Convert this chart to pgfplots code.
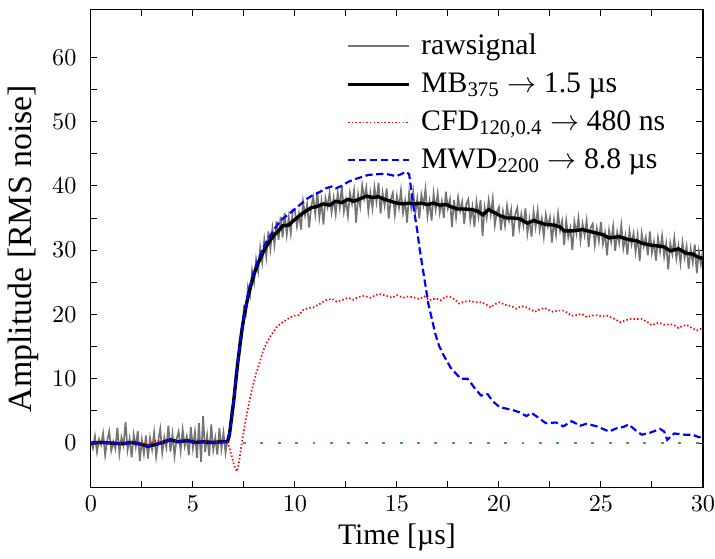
\documentclass[border=0pt]{standalone}
\usepackage{fontspec}
\setmainfont{Liberation Serif}
\usepackage{pgfplots}
\pgfplotsset{compat=1.18}

\definecolor{rawgray}{RGB}{115,115,115}
\definecolor{zerogreen}{RGB}{70,165,70}

\begin{document}
\begin{tikzpicture}
\begin{axis}[
  scale only axis,
  width=253pt, height=197.5pt,
  xmin=0, xmax=30, ymin=-6.9, ymax=67.4,
  xtick={0,5,...,30}, ytick={0,10,...,60},
  minor x tick num=1, minor y tick num=1,
  major tick length=2.7pt, minor tick length=2.7pt,
  tick style={black, line width=0.4pt},
  axis line style={line width=0.5pt},
  tick label style={font=\fontsize{9.6}{11}\selectfont},
  xticklabel style={inner xsep=0pt},
  yticklabel style={inner xsep=0pt, xshift=-5.8pt},
  xlabel={Time [µs]},
  ylabel={Amplitude [RMS noise]},
  xlabel style={font=\fontsize{12.3}{14}\selectfont, yshift=2pt},
  ylabel style={font=\fontsize{14}{16}\selectfont, yshift=2pt},
  legend style={at={(0.405,0.97)}, anchor=north west, draw=none, fill=none,
    legend cell align=left, row sep=2pt,
    font=\fontsize{12.3}{14}\selectfont,
    nodes={inner xsep=3pt}},
  legend image code/.code={\draw[#1] (0pt,0pt) -- (25pt,0pt); \path (26.5pt,0pt);},
]

% raw samples, 100 ns spacing
\addplot[rawgray, line width=0.7pt] coordinates {
(0.0,0.3)(0.1,-0.8)(0.2,1.1)(0.3,-1.4)(0.4,0.6)(0.5,-0.3)(0.6,1.5)(0.7,-1.9)(0.8,0.4)(0.9,1.8)
(1.0,-1.2)(1.1,0.2)(1.2,-0.9)(1.3,2.4)(1.4,-1.6)(1.5,0.9)(1.6,-0.4)(1.7,3.3)(1.8,-1.1)(1.9,0.7)
(2.0,-2.2)(2.1,1.3)(2.2,-0.6)(2.3,1.9)(2.4,-2.8)(2.5,0.5)(2.6,-1.7)(2.7,1.2)(2.8,-2.4)(2.9,0.8)
(3.0,-1.0)(3.1,1.6)(3.2,-2.1)(3.3,0.3)(3.4,2.2)(3.5,-1.5)(3.6,0.9)(3.7,-0.7)(3.8,2.7)(3.9,-1.3)
(4.0,1.4)(4.1,-2.0)(4.2,0.6)(4.3,1.8)(4.4,-1.2)(4.5,2.1)(4.6,-0.5)(4.7,1.0)(4.8,-1.9)(4.9,2.5)
(5.0,-0.8)(5.1,1.7)(5.2,-2.3)(5.3,3.1)(5.4,-2.9)(5.5,4.2)(5.6,-1.4)(5.7,1.2)(5.8,-2.0)(5.9,2.9)
(6.0,-1.1)(6.1,0.8)(6.2,-1.8)(6.3,2.3)(6.4,-0.9)(6.5,1.6)(6.6,-1.5)(6.7,0.7)(6.8,0.8)(6.9,5.2)
(7.0,5.8)(7.1,10.9)(7.2,11.6)(7.3,16.3)(7.4,16.7)(7.5,21.0)(7.6,20.1)(7.7,24.3)(7.8,22.9)(7.9,26.8)
(8.0,25.0)(8.1,28.6)(8.2,26.7)(8.3,30.4)(8.4,28.1)(8.5,31.6)(8.6,29.0)(8.7,32.9)(8.8,30.2)(8.9,33.4)
(9.0,30.8)(9.1,34.5)(9.2,31.6)(9.3,35.2)(9.4,32.0)(9.5,35.8)(9.6,32.4)(9.7,35.1)(9.8,32.6)(9.9,36.3)
(10.0,36.2)(10.1,33.7)(10.2,35.7)(10.3,33.2)(10.4,37.6)(10.5,35.4)(10.6,37.1)(10.7,33.5)(10.8,36.8)(10.9,38.2)
(11.0,35.6)(11.1,39.1)(11.2,35.1)(11.3,37.6)(11.4,34.0)(11.5,38.1)(11.6,36.7)(11.7,38.9)(11.8,35.9)(11.9,38.1)
(12.0,35.6)(12.1,38.9)(12.2,36.6)(12.3,39.9)(12.4,36.0)(12.5,37.8)(12.6,35.3)(12.7,38.9)(12.8,37.2)(12.9,39.3)
(13.0,34.3)(13.1,38.7)(13.2,36.8)(13.3,40.1)(13.4,38.0)(13.5,39.7)(13.6,36.1)(13.7,38.9)(13.8,36.5)(13.9,39.8)
(14.0,37.5)(14.1,40.5)(14.2,35.7)(14.3,38.9)(14.4,36.9)(14.5,39.6)(14.6,34.9)(14.7,37.9)(14.8,38.9)(14.9,35.5)
(15.0,38.4)(15.1,36.6)(15.2,39.3)(15.3,35.8)(15.4,37.7)(15.5,34.3)(15.6,38.9)(15.7,36.6)(15.8,39.1)(15.9,35.7)
(16.0,38.0)(16.1,34.9)(16.2,38.6)(16.3,37.0)(16.4,39.5)(16.5,35.3)(16.6,37.6)(16.7,34.6)(16.8,38.8)(16.9,36.3)
(17.0,38.8)(17.1,35.8)(17.2,37.6)(17.3,35.0)(17.4,39.1)(17.5,36.5)(17.6,37.9)(17.7,33.6)(17.8,37.8)(17.9,35.1)
(18.0,38.2)(18.1,36.1)(18.2,37.5)(18.3,34.1)(18.4,37.1)(18.5,37.9)(18.6,34.6)(18.7,36.7)(18.8,33.6)(18.9,37.5)
(19.0,35.2)(19.1,37.8)(19.2,32.2)(19.3,36.7)(19.4,35.0)(19.5,37.8)(19.6,35.5)(19.7,38.0)(19.8,33.9)(19.9,35.9)
(20.0,36.7)(20.1,33.1)(20.2,36.0)(20.3,33.8)(20.4,36.9)(20.5,34.6)(20.6,36.3)(20.7,32.1)(20.8,35.6)(20.9,36.6)
(21.0,33.4)(21.1,35.6)(21.2,33.8)(21.3,36.5)(21.4,32.6)(21.5,34.8)(21.6,32.1)(21.7,36.0)(21.8,33.6)(21.9,36.2)
(22.0,33.1)(22.1,34.9)(22.2,32.1)(22.3,35.5)(22.4,33.7)(22.5,35.1)(22.6,31.2)(22.7,34.7)(22.8,32.4)(22.9,35.7)
(23.0,33.0)(23.1,34.5)(23.2,30.8)(23.3,34.6)(23.4,32.0)(23.5,33.4)(23.6,30.0)(23.7,34.4)(23.8,32.6)(23.9,35.0)
(24.0,31.5)(24.1,34.1)(24.2,32.3)(24.3,34.6)(24.4,30.5)(24.5,33.5)(24.6,34.1)(24.7,30.8)(24.8,33.4)(24.9,31.4)
(25.0,34.4)(25.1,31.0)(25.2,32.7)(25.3,29.2)(25.4,33.1)(25.5,31.3)(25.6,33.7)(25.7,29.9)(25.8,32.8)(25.9,31.1)
(26.0,33.9)(26.1,30.3)(26.2,32.2)(26.3,29.3)(26.4,33.0)(26.5,30.9)(26.6,32.6)(26.7,29.7)(26.8,32.3)(26.9,28.3)
(27.0,32.6)(27.1,30.6)(27.2,32.0)(27.3,29.2)(27.4,32.9)(27.5,29.6)(27.6,31.3)(27.7,28.4)(27.8,31.9)(27.9,29.8)
(28.0,32.2)(28.1,29.0)(28.2,31.0)(28.3,27.0)(28.4,31.1)(28.5,29.4)(28.6,31.9)(28.7,28.7)(28.8,30.7)(28.9,28.0)
(29.0,31.2)(29.1,28.8)(29.2,30.6)(29.3,27.1)(29.4,30.2)(29.5,28.1)(29.6,30.9)(29.7,26.4)(29.8,29.8)(29.9,27.8)
(30.0,29.9)
};
\addlegendentry{rawsignal}

% moving baseline filter output
\addplot[black, line width=1.4pt] coordinates {
(0,0)(0.5,0.1)(1,0)(1.5,-0.1)(2,0.1)(2.5,-0.2)(2.8,-0.5)(3.2,-0.2)(3.6,0.2)(3.9,0.5)
(4.3,0.2)(4.7,0.4)(5.1,0.1)(5.5,0.2)(6,0.1)(6.4,0.2)(6.7,0.2)
(6.8,1.5)(6.9,4)(7.0,6.5)(7.1,9.5)(7.2,12.5)(7.3,15)(7.4,17.5)(7.5,19.5)(7.6,21.2)(7.7,22.7)
(7.8,24)(7.9,25.2)(8.0,26.3)(8.2,28.0)(8.4,29.4)(8.6,30.6)(8.8,31.6)(9.0,32.4)(9.2,33.0)
(9.4,33.8)(9.7,33.9)(9.9,34.5)(10.2,35.3)(10.5,36.0)(10.8,36.6)(11.1,36.8)(11.4,37.2)(11.7,37.0)
(12.0,37.6)(12.3,37.4)(12.6,37.9)(12.9,37.6)(13.2,38.0)(13.5,38.4)(13.8,38.2)(14.1,38.3)(14.4,37.9)
(14.7,37.6)(15.0,37.3)(15.3,37.2)(15.6,37.3)(15.9,37.2)(16.2,37.3)(16.5,37.1)(16.8,37.3)(17.1,37.0)
(17.4,37.1)(17.7,36.7)(18.0,36.4)(18.3,36.4)(18.7,36.3)(19.0,36.0)(19.2,35.5)(19.5,36.3)(19.8,35.8)
(20.1,35.3)(20.4,35.0)(20.7,35.0)(21.0,34.9)(21.4,34.2)(21.7,34.6)(22.0,34.3)(22.3,34.0)(22.7,33.9)
(23.0,33.6)(23.2,33.0)(23.6,33.0)(24.1,33.2)(24.6,32.8)(25.1,32.4)(25.4,31.9)(25.9,32.1)(26.4,31.6)
(26.7,31.5)(27.0,31.1)(27.4,30.8)(27.9,30.6)(28.1,30.5)(28.4,29.9)(28.8,30.2)(29.2,29.5)(29.5,29.4)
(29.7,29.0)(30,28.7)
};
\addlegendentry{MB\textsubscript{375} $\rightarrow$ 1.5 µs}

% constant fraction discriminator output
\addplot[red, line width=0.7pt, dash pattern=on 0.6pt off 0.9pt] coordinates {
(0,0)(0.5,0.1)(1,-0.1)(1.5,0)(2,0.2)(2.5,-0.1)(2.8,-0.3)(3.2,0.4)(3.6,0.1)(3.9,0.6)
(4.3,0.1)(4.7,0.6)(5.1,-0.1)(5.5,0.3)(6,0.1)(6.4,0.2)(6.7,0.1)
(6.8,-0.8)(6.9,-2.0)(7.0,-3.2)(7.1,-4.1)(7.17,-4.4)(7.25,-3.2)(7.35,-1.0)(7.45,1.0)(7.6,3.8)
(7.8,7.0)(7.94,8.9)(8.1,10.8)(8.3,12.8)(8.44,14.3)(8.6,15.5)(8.8,16.6)(8.93,17.2)(9.1,18.0)
(9.3,18.6)(9.5,19.0)(9.7,19.4)(9.92,19.8)(10.2,19.9)(10.4,20.7)(10.66,21.0)(10.9,21.1)(11.2,21.6)
(11.5,22.2)(11.8,22.45)(12.05,22.0)(12.3,22.2)(12.6,22.6)(12.85,22.3)(13.1,22.7)(13.4,22.9)
(13.7,22.6)(14.1,23.2)(14.4,23.0)(14.77,22.6)(15.0,23.0)(15.3,22.6)(15.55,22.8)(15.75,22.7)
(16.1,22.4)(16.35,22.8)(16.58,22.2)(16.9,22.5)(17.15,22.2)(17.4,22.8)(17.64,22.7)(17.85,22.3)
(18.05,21.7)(18.3,22.0)(18.6,22.1)(18.85,21.9)(19.12,21.9)(19.35,21.6)(19.6,21.1)(19.8,21.6)
(20.03,21.9)(20.3,21.5)(20.6,21.3)(20.85,20.9)(21.1,21.3)(21.35,21.1)(21.55,20.8)(21.76,20.4)
(22.0,20.8)(22.25,21.0)(22.45,20.7)(22.66,20.4)(22.9,20.6)(23.15,20.6)(23.35,20.3)(23.57,19.8)
(23.8,19.9)(24.06,20.1)(24.3,19.6)(24.55,19.8)(24.8,19.9)(25.05,19.7)(25.3,19.8)(25.6,19.4)
(25.95,18.8)(26.2,19.1)(26.45,19.3)(26.75,19.3)(27.0,19.3)(27.25,18.9)(27.5,18.3)(27.7,18.6)
(27.85,18.7)(28.1,18.4)(28.4,18.5)(28.6,18.3)(28.8,17.9)(29.0,18.2)(29.2,18.4)(29.45,17.9)
(29.7,17.5)(29.85,17.7)(30,17.9)
};
\addlegendentry{CFD\textsubscript{120,0.4} $\rightarrow$ 480 ns}

% moving window deconvolution output
\addplot[blue, line width=0.9pt, dash pattern=on 3pt off 1.5pt] coordinates {
(0,0)(0.5,0.1)(1,0)(1.5,-0.1)(2,0.1)(2.5,-0.2)(2.8,-0.5)(3.2,-0.2)(3.6,0.2)(3.9,0.5)
(4.3,0.2)(4.7,0.4)(5.1,0.1)(5.5,0.2)(6,0.1)(6.4,0.2)(6.7,0.2)
(6.8,1.5)(6.9,4)(7.0,6.6)(7.1,9.6)(7.2,12.6)(7.3,15.2)(7.4,17.7)(7.5,19.8)(7.6,21.5)(7.7,23.0)
(7.8,24.4)(7.9,25.6)(8.0,26.7)(8.2,28.5)(8.4,30.0)(8.6,31.3)(8.8,32.3)(9.0,33.3)(9.2,34.2)
(9.4,34.9)(9.7,35.6)(10.0,36.4)(10.3,37.2)(10.6,38.0)(10.9,38.6)(11.2,39.0)(11.5,39.6)(11.8,39.9)
(12.0,39.6)(12.3,40.0)(12.6,40.6)(12.9,41.0)(13.2,41.3)(13.6,41.7)(14.0,41.8)(14.4,41.9)(14.7,41.7)
(14.95,41.5)(15.2,41.8)(15.45,42.2)(15.6,41.8)(15.7,39.5)(15.8,37.0)(15.9,35.0)(16.0,33.0)
(16.1,30.5)(16.25,27.5)(16.4,24.5)(16.55,21.5)(16.7,19.5)(16.9,16.8)(17.07,15.1)(17.3,13.6)
(17.64,11.7)(17.9,10.8)(18.13,10.0)(18.47,10.0)(18.8,8.6)(19.12,7.4)(19.45,7.6)(19.7,6.5)
(20.03,5.6)(20.3,5.4)(20.6,5.2)(21.0,4.8)(21.35,4.2)(21.6,4.7)(22.0,3.8)(22.3,3.1)(22.8,3.2)
(23.15,2.6)(23.57,3.4)(23.98,2.7)(24.3,3.0)(24.8,2.6)(25.1,2.2)(25.4,1.8)(25.8,2.35)(26.1,2.5)
(26.36,2.9)(26.7,2.0)(27.0,1.3)(27.4,1.6)(27.9,2.2)(28.1,1.8)(28.25,0.5)(28.6,1.5)(29.1,1.3)
(29.5,1.3)(29.8,0.9)(30,1.1)
};
\addlegendentry{MWD\textsubscript{2200} $\rightarrow$ 8.8 µs}

% zero reference after the crossing
\addplot[zerogreen, line width=1pt, dash pattern=on 1.2pt off 6pt, forget plot]
  coordinates {(7.45,0)(30,0)};

\end{axis}
\path ([yshift=4pt]current axis.north);
\end{tikzpicture}
\end{document}
